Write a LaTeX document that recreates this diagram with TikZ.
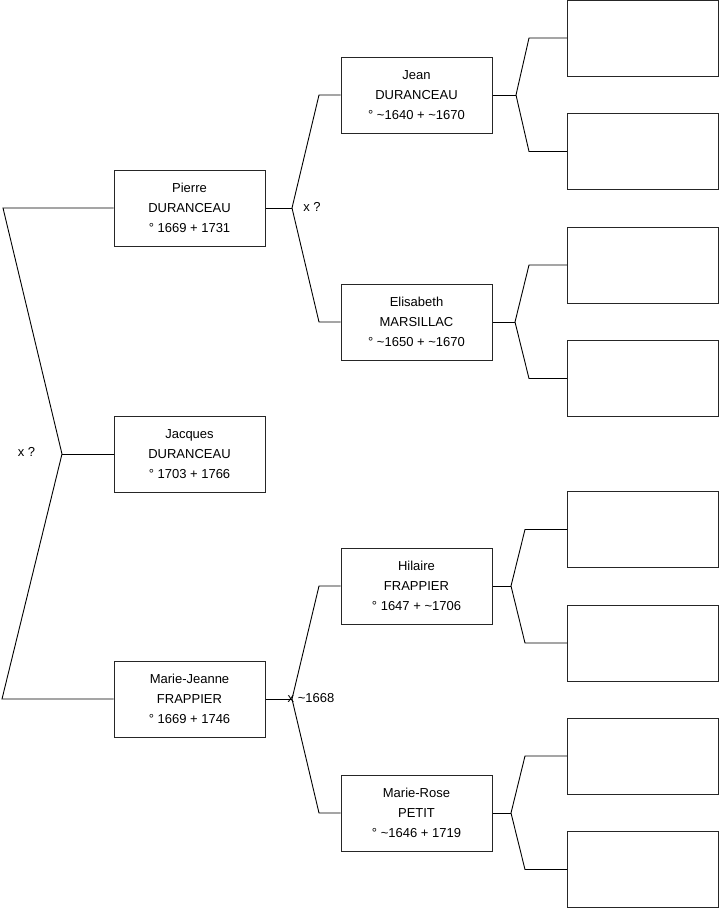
\documentclass[tikz,border=0pt]{standalone}
\usepackage{fontspec}
\setmainfont{Liberation Sans}
\usepackage{tikz}
\usetikzlibrary{positioning}

\tikzset{
  person/.style={draw=black!85, line width=1pt, minimum width=151pt, minimum height=76pt,
    inner sep=0pt, align=center, font=\fontsize{13}{20}\selectfont},
  link/.style={draw=black, line width=0.9pt},
  couple/.style={font=\fontsize{13}{16}\selectfont, inner sep=0pt}
}

\begin{document}
\begin{tikzpicture}[x=1pt, y=-1pt]
\useasboundingbox (0,0) rectangle (719,908);

% generation 1 and 2
\node[person] (pierre) at (189.5,208) {Pierre\\DURANCEAU\\° 1669 + 1731};
\node[person] (jacques) at (189.5,454) {Jacques\\DURANCEAU\\° 1703 + 1766};
\node[person] (mariejeanne) at (189.5,699) {Marie-Jeanne\\FRAPPIER\\° 1669 + 1746};

% generation 3
\node[person] (jean) at (416.5,95) {Jean\\DURANCEAU\\° \textasciitilde1640 + \textasciitilde1670};
\node[person] (elisabeth) at (416.5,322) {Elisabeth\\MARSILLAC\\° \textasciitilde1650 + \textasciitilde1670};
\node[person] (hilaire) at (416.5,586) {Hilaire\\FRAPPIER\\° 1647 + \textasciitilde1706};
\node[person] (marierose) at (416.5,813) {Marie-Rose\\PETIT\\° \textasciitilde1646 + 1719};

% generation 4 (empty)
\foreach \n/\y in {1/38,2/151.5,3/265,4/378.5,5/529.5,6/643,7/756,8/869.5}
  \node[person] (e\n) at (643,\y) {};

% fork points
\coordinate (a0) at (62,454);
\coordinate (a1) at (3,208);
\coordinate (a2) at (2,699);

\coordinate (b0) at (292,208);
\coordinate (b1) at (319,95);
\coordinate (b2) at (319,322);

\coordinate (m0) at (292,699);
\coordinate (m1) at (319,586);
\coordinate (m2) at (319,813);

\coordinate (j0) at (516,95);
\coordinate (j1) at (529,38);
\coordinate (j2) at (529,151.5);

\coordinate (l0) at (515,322);
\coordinate (l1) at (529,265);
\coordinate (l2) at (529,378.5);

\coordinate (h0) at (511,586);
\coordinate (h1) at (525,529.5);
\coordinate (h2) at (525,643);

\coordinate (r0) at (511,813);
\coordinate (r1) at (525,756);
\coordinate (r2) at (525,869.5);

\draw[link] (jacques.west)--(a0);
\draw[link] (a0)--(a1)--(pierre.west);
\draw[link] (a0)--(a2)--(mariejeanne.west);

\draw[link] (pierre.east)--(b0);
\draw[link] (b0)--(b1)--(jean.west);
\draw[link] (b0)--(b2)--(elisabeth.west);

\draw[link] (mariejeanne.east)--(m0);
\draw[link] (m0)--(m1)--(hilaire.west);
\draw[link] (m0)--(m2)--(marierose.west);

\draw[link] (jean.east)--(j0);
\draw[link] (j0)--(j1)--(e1.west);
\draw[link] (j0)--(j2)--(e2.west);

\draw[link] (elisabeth.east)--(l0);
\draw[link] (l0)--(l1)--(e3.west);
\draw[link] (l0)--(l2)--(e4.west);

\draw[link] (hilaire.east)--(h0);
\draw[link] (h0)--(h1)--(e5.west);
\draw[link] (h0)--(h2)--(e6.west);

\draw[link] (marierose.east)--(r0);
\draw[link] (r0)--(r1)--(e7.west);
\draw[link] (r0)--(r2)--(e8.west);

% marriages
\node[couple] (xa) at (26.5,452) {x ?};
\node[couple] (xb) at (312,207) {x ?};
\node[couple, anchor=west] (xm) at (287.5,698) {x \textasciitilde1668};

\end{tikzpicture}
\end{document}
